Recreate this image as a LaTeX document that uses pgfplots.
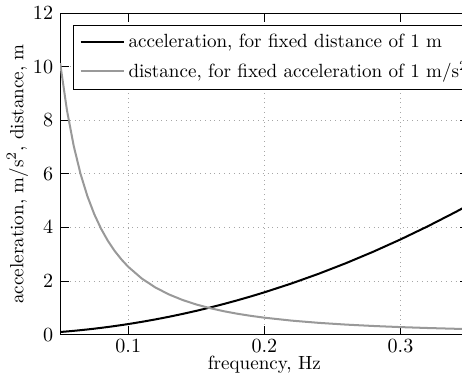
\documentclass[border=0pt]{standalone}
\usepackage{pgfplots}
\pgfplotsset{compat=1.18}
\begin{document}
\begin{tikzpicture}
\begin{axis}[
  name=ax,
  scale only axis,
  width=203.25pt, height=160pt,
  xmin=0.05, xmax=0.35, ymin=0, ymax=12,
  xtick={0.1,0.2,0.3},
  ytick={0,2,4,6,8,10,12},
  xticklabels={0.1,0.2,0.3},
  grid=major,
  major grid style={dotted, gray!70},
  tick align=inside,
  tick style={black, thin},
  xticklabel style={yshift=1.5pt},
  xlabel={frequency, Hz},
  ylabel={acceleration, m/s$^2$, distance, m},
  label style={font=\fontsize{9.5}{11.4}\selectfont},
  xlabel style={yshift=5pt},
  ylabel style={yshift=-4.5pt},
  legend cell align=left,
  legend style={at={(0,1)}, anchor=north west, xshift=6.5pt, yshift=-6pt, draw=black, fill=white, row sep=1.5pt, font=\fontsize{9.5}{11.4}\selectfont},
  legend image code/.code={\draw[#1] (0cm,0cm) -- (0.75cm,0cm);},
]
\addplot[black, line width=1pt] coordinates {
(0.050,0.0987) (0.055,0.1194) (0.060,0.1421) (0.065,0.1668) (0.070,0.1934)
(0.075,0.2221) (0.080,0.2527) (0.085,0.2852) (0.090,0.3198) (0.095,0.3563)
(0.100,0.3948) (0.110,0.4777) (0.120,0.5685) (0.130,0.6672) (0.140,0.7738)
(0.150,0.8883) (0.160,1.0106) (0.170,1.1409) (0.180,1.2791) (0.190,1.4252)
(0.200,1.5791) (0.220,1.9107) (0.240,2.2739) (0.260,2.6687) (0.280,3.0951)
(0.300,3.5531) (0.320,4.0426) (0.340,4.5637) (0.350,4.8361)
};
\addlegendentry{acceleration, for fixed distance of 1 m}
\addplot[black!40, line width=1pt] coordinates {
(0.050,10.132) (0.055,8.374) (0.060,7.036) (0.065,5.995) (0.070,5.170)
(0.075,4.503) (0.080,3.958) (0.085,3.506) (0.090,3.127) (0.095,2.807)
(0.100,2.533) (0.110,2.093) (0.120,1.759) (0.130,1.499) (0.140,1.292)
(0.150,1.126) (0.160,0.9895) (0.170,0.8765) (0.180,0.7818) (0.190,0.7017)
(0.200,0.6333) (0.220,0.5234) (0.240,0.4398) (0.260,0.3747) (0.280,0.3231)
(0.300,0.2814) (0.320,0.2474) (0.340,0.2191) (0.350,0.2068)
};
\addlegendentry{distance, for fixed acceleration of 1 m/s$^2$}
\coordinate (R) at (axis cs:0.3452,12);
\end{axis}
\pgfresetboundingbox
\path (ax.outer south west) rectangle (R |- ax.outer north east);
\end{tikzpicture}
\end{document}
